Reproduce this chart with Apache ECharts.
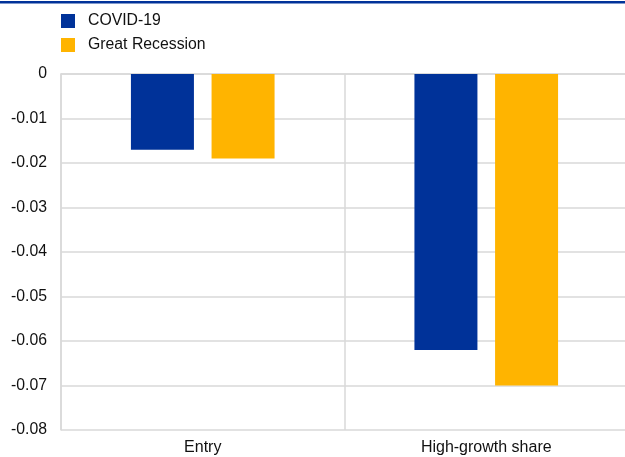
<!DOCTYPE html>
<html>
<head>
<meta charset="utf-8">
<script src="https://cdn.jsdelivr.net/npm/echarts@6/dist/echarts.min.js"></script>
<style>html,body{margin:0;padding:0;background:#fff;overflow:hidden}#c{width:630px;height:457px}</style>
</head>
<body>
<div id="c"></div>
<script>
var categories = ['Entry', 'High-growth share'];
var covid = [-0.017, -0.062];
var greatRecession = [-0.019, -0.070];
var seriesNames = ['COVID-19', 'Great Recession'];

var chart = echarts.init(document.getElementById('c'), null, {renderer: 'canvas'});
var font = '"Liberation Sans", Arial, sans-serif';
chart.setOption({
  animation: false,
  graphic: [{type: 'rect', left: 0, top: 1, shape: {width: 630, height: 2.5}, style: {fill: '#003299'}}],
  legend: {
    orient: 'vertical', left: 61, top: 13, padding: 0, itemWidth: 14, itemHeight: 14, itemGap: 8,
    icon: 'rect',
    textStyle: {fontFamily: font, fontSize: 15.8, color: '#111', padding: [0, 0, 0, 8]},
    data: seriesNames
  },
  grid: {left: 61, right: 2, top: 74, bottom: 27, containLabel: false},
  xAxis: {
    type: 'category', data: categories,
    axisLine: {lineStyle: {color: '#d9d9d9', width: 1.5}},
    axisTick: {show: false},
    axisLabel: {fontFamily: font, fontSize: 16, color: '#111', margin: 10},
    splitLine: {show: true, lineStyle: {color: '#d9d9d9', width: 1.5}}
  },
  yAxis: {
    type: 'value', min: -0.08, max: 0, interval: 0.01,
    axisLine: {show: true, lineStyle: {color: '#d9d9d9', width: 1.5}},
    axisTick: {show: false},
    axisLabel: {fontFamily: font, fontSize: 15.8, color: '#111', margin: 14,
      formatter: function (v) { return v === 0 ? '0' : (+v.toFixed(2)).toString(); }},
    splitLine: {lineStyle: {color: '#d9d9d9', width: 1.5}}
  },
  series: [
    {name: seriesNames[0], type: 'bar', data: covid, barWidth: 63, barGap: '28%', itemStyle: {color: '#003299'}},
    {name: seriesNames[1], type: 'bar', data: greatRecession, barWidth: 63, itemStyle: {color: '#FFB400'}}
  ]
});
</script>
</body>
</html>
